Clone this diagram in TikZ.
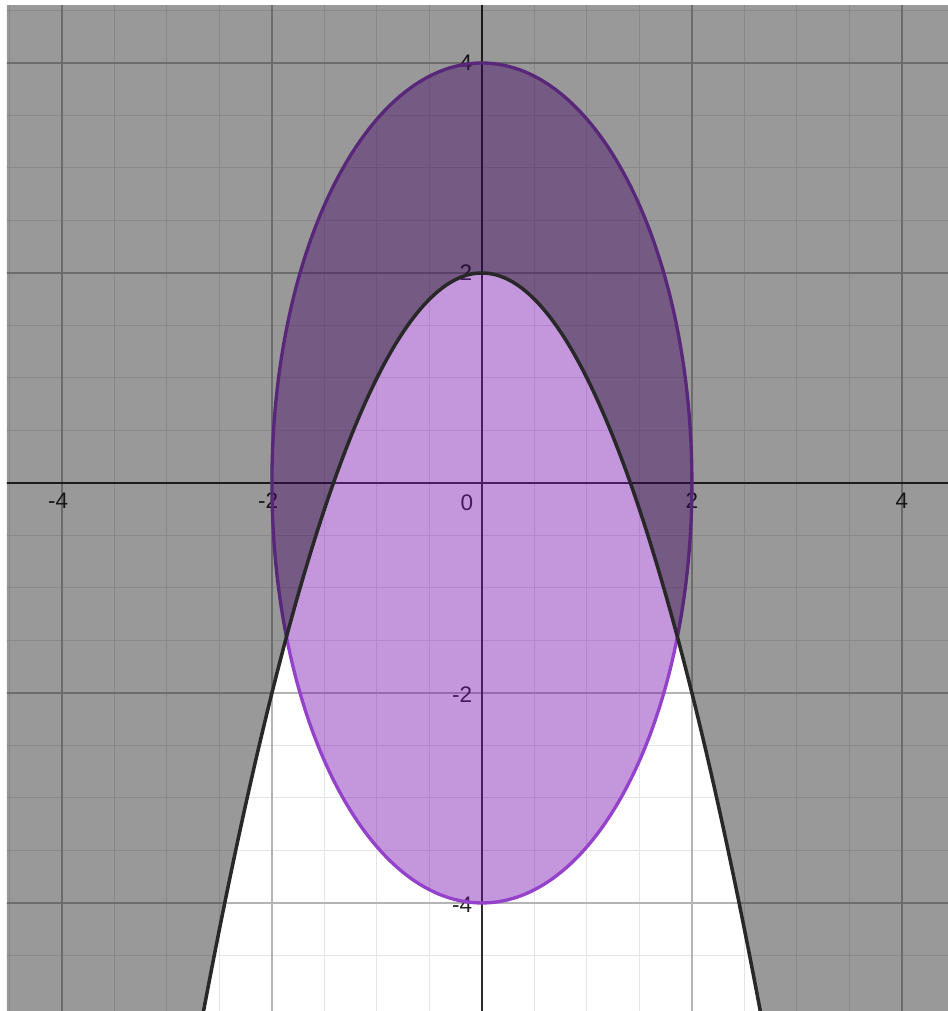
\documentclass[tikz,border=0pt]{standalone}
\usepackage{fontspec}
\setmainfont{Liberation Sans}
\definecolor{minorgrid}{RGB}{228,228,228}
\definecolor{majorgrid}{RGB}{180,180,180}
\definecolor{axiscol}{RGB}{45,45,45}
\definecolor{ellfill}{RGB}{115,7,172}
\definecolor{ellline}{RGB}{148,66,204}
\definecolor{parcol}{RGB}{40,40,40}
\tikzset{
  minorline/.style={minorgrid, line width=0.27pt},
  majorline/.style={majorgrid, line width=0.38pt},
  axisline/.style={axiscol, line width=0.65pt},
  ticklabel/.style={inner sep=0pt, font=\fontsize{6.1}{7}\selectfont, text=black!85},
}
\begin{document}
\begin{tikzpicture}[x=1cm,y=1cm]
\useasboundingbox[fill=white] (-4.590,-5.029) rectangle (4.438,4.6);
\begin{scope}
\clip (-4.524,-5.029) rectangle (4.438,4.543);
% grid
\foreach \k in {-9,...,9} {
  \draw[minorline] (\k*0.5,-5.2) -- (\k*0.5,4.7);
  \draw[minorline] (-4.7,\k*0.5) -- (4.6,\k*0.5);
}
\foreach \k in {-4,-2,2,4} {
  \draw[majorline] (\k,-5.2) -- (\k,4.7);
  \draw[majorline] (-4.7,\k) -- (4.6,\k);
}
% axes
\draw[axisline] (-4.7,0) -- (4.6,0);
\draw[axisline] (0,-5.2) -- (0,4.7);
% labels
\node[ticklabel] (xm4) at (-4,-0.171) {\llap{-}4};
\node[ticklabel] (xm2) at (-2,-0.171) {\llap{-}2};
\node[ticklabel] (xp2) at (2,-0.171) {2};
\node[ticklabel] (xp4) at (4,-0.171) {4};
\node[ticklabel, anchor=east] (o) at (-0.076,-0.19) {0};
\node[ticklabel, anchor=east] (yp4) at (-0.086,4.0) {4};
\node[ticklabel, anchor=east] (yp2) at (-0.086,2.0) {2};
\node[ticklabel, anchor=east] (ym2) at (-0.086,-2.02) {-2};
\node[ticklabel, anchor=east] (ym4) at (-0.086,-4.02) {-4};
% ellipse
\fill[ellfill, fill opacity=0.42] (0,0) ellipse [x radius=2, y radius=4];
\draw[ellline, line width=0.9pt] (0,0) ellipse [x radius=2, y radius=4];
% gray region y > 2 - x^2
\fill[black, fill opacity=0.4] (-4.7,-5.102) -- plot[domain=-2.665:2.665, samples=201] (\x,{2-\x*\x}) -- (4.6,-5.102) -- (4.6,4.7) -- (-4.7,4.7) -- cycle;
% parabola
\draw[parcol, line width=0.95pt] plot[domain=-2.665:2.665, samples=201] (\x,{2-\x*\x});
\end{scope}
\end{tikzpicture}
\end{document}
